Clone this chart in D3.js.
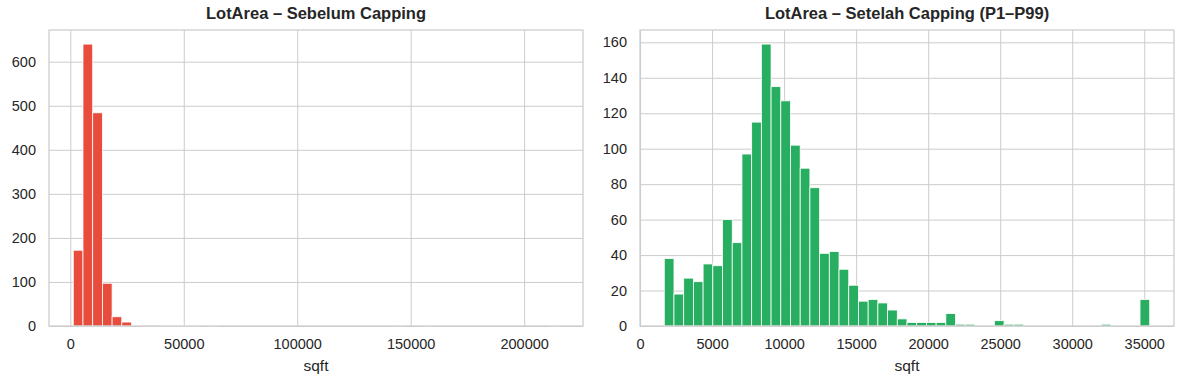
<!DOCTYPE html>
<html>
<head>
<meta charset="utf-8">
<script src="https://cdn.jsdelivr.net/npm/d3@7"></script>
<style>
  body { margin: 0; background: #ffffff; }
  svg { display: block; font-family: "Liberation Sans", Arial, sans-serif; }
</style>
</head>
<body>
<div id="chart"></div>
<script>
// Histogram data (50 bins each)
const beforeRange = [1300, 215245];
const beforeCounts = [
  172, 640, 484, 97, 21, 9, 0, 2, 2, 1,
  1, 1, 1, 0, 1, 0, 0, 0, 0, 0,
  0, 0, 0, 0, 0, 0, 0, 0, 0, 0,
  0, 0, 0, 1, 0, 0, 1, 0, 0, 0,
  0, 0, 0, 0, 0, 0, 0, 0, 0, 1
];
const afterRange = [1680, 35380];
const afterCounts = [
  38, 18, 27, 25, 35, 34, 60, 47, 97, 115,
  159, 135, 127, 102, 89, 78, 41, 42, 32, 23,
  14, 15, 13, 9, 4, 2, 2, 2, 2, 7,
  1, 1, 0, 0, 3, 1, 1, 0, 0, 0,
  0, 0, 0, 0, 0, 1, 0, 0, 0, 15
];
const beforeXTicks = [0, 50000, 100000, 150000, 200000];
const beforeYTicks = [0, 100, 200, 300, 400, 500, 600];
const afterXTicks = [0, 5000, 10000, 15000, 20000, 25000, 30000, 35000];
const afterYTicks = [0, 20, 40, 60, 80, 100, 120, 140, 160];

const width = 1184, height = 384;
const gridColor = "#cccccc";
const textColor = "#262626";

const svg = d3.select("#chart")
  .append("svg")
  .attr("width", width)
  .attr("height", height);

function drawPanel(opts) {
  const { left, right, top, bottom, range, counts, xTicks, yTicks, color, title } = opts;
  const nBins = counts.length;
  const binW = (range[1] - range[0]) / nBins;
  const bins = counts.map((c, i) => ({
    x0: range[0] + i * binW,
    x1: range[0] + (i + 1) * binW,
    count: c
  }));

  // matplotlib-like 5% margins on x, 5% headroom on y
  const span = range[1] - range[0];
  const x = d3.scaleLinear()
    .domain([range[0] - span * 0.05, range[1] + span * 0.05])
    .range([left, right]);
  const y = d3.scaleLinear()
    .domain([0, d3.max(counts) * 1.05])
    .range([bottom, top]);

  const g = svg.append("g");

  // grid lines
  g.append("g")
    .attr("transform", `translate(0,${bottom})`)
    .call(d3.axisBottom(x).tickValues(xTicks).tickSize(-(bottom - top)).tickFormat(""))
    .call(s => s.select(".domain").remove())
    .selectAll("line").attr("stroke", gridColor).attr("stroke-width", 1);
  g.append("g")
    .attr("transform", `translate(${left},0)`)
    .call(d3.axisLeft(y).tickValues(yTicks).tickSize(-(right - left)).tickFormat(""))
    .call(s => s.select(".domain").remove())
    .selectAll("line").attr("stroke", gridColor).attr("stroke-width", 1);

  // bars
  g.selectAll(".bar")
    .data(bins.filter(d => d.count > 0))
    .enter()
    .append("rect")
    .attr("class", "bar")
    .attr("x", d => x(d.x0))
    .attr("width", d => x(d.x1) - x(d.x0))
    .attr("y", d => y(d.count))
    .attr("height", d => y(0) - y(d.count))
    .attr("fill", color)
    .attr("stroke", "#ffffff")
    .attr("stroke-width", 0.8);

  // frame
  g.append("rect")
    .attr("x", left)
    .attr("y", top)
    .attr("width", right - left)
    .attr("height", bottom - top)
    .attr("fill", "none")
    .attr("stroke", gridColor)
    .attr("stroke-width", 1.25);

  // tick labels
  const xAxis = g.append("g")
    .attr("transform", `translate(0,${bottom})`)
    .call(d3.axisBottom(x).tickValues(xTicks).tickSize(0).tickPadding(13).tickFormat(d3.format("d")));
  xAxis.select(".domain").remove();
  xAxis.selectAll("text")
    .attr("font-size", "14.5px")
    .attr("fill", textColor)
    .attr("font-family", "Liberation Sans, Arial, sans-serif");

  const yAxis = g.append("g")
    .attr("transform", `translate(${left},0)`)
    .call(d3.axisLeft(y).tickValues(yTicks).tickSize(0).tickPadding(13).tickFormat(d3.format("d")));
  yAxis.select(".domain").remove();
  yAxis.selectAll("text")
    .attr("font-size", "14.5px")
    .attr("fill", textColor)
    .attr("font-family", "Liberation Sans, Arial, sans-serif");

  // x label
  g.append("text")
    .attr("x", (left + right) / 2)
    .attr("y", bottom + 45)
    .attr("text-anchor", "middle")
    .attr("font-size", "15.5px")
    .attr("fill", textColor)
    .text("sqft");

  // title
  g.append("text")
    .attr("x", (left + right) / 2)
    .attr("y", top - 11)
    .attr("text-anchor", "middle")
    .attr("font-size", "16.5px")
    .attr("font-weight", "bold")
    .attr("fill", textColor)
    .text(title);
}

drawPanel({
  left: 49, right: 583, top: 30, bottom: 326,
  range: beforeRange, counts: beforeCounts,
  xTicks: beforeXTicks, yTicks: beforeYTicks,
  color: "#e74c3c",
  title: "LotArea – Sebelum Capping"
});

drawPanel({
  left: 640, right: 1174, top: 30, bottom: 326,
  range: afterRange, counts: afterCounts,
  xTicks: afterXTicks, yTicks: afterYTicks,
  color: "#27ae60",
  title: "LotArea – Setelah Capping (P1–P99)"
});
</script>
</body>
</html>
